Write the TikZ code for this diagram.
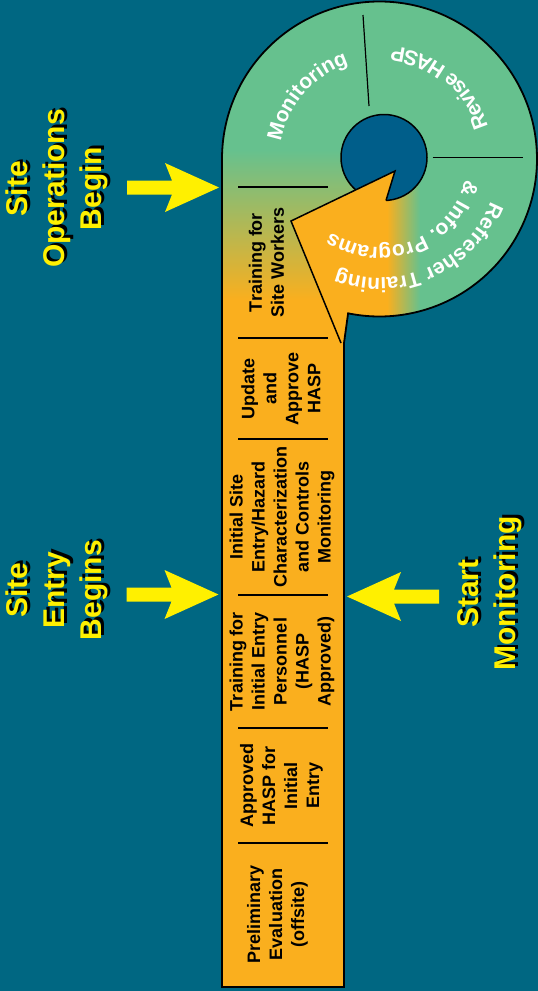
\documentclass[tikz,border=0pt]{standalone}
\usepackage{fontspec}
\setmainfont{Liberation Sans}
\usetikzlibrary{decorations.text}
\definecolor{bgteal}{RGB}{0,103,130}
\definecolor{holeblue}{RGB}{0,94,138}
\definecolor{stripor}{RGB}{250,175,30}
\definecolor{ringgreen}{RGB}{102,193,142}
\definecolor{signyellow}{RGB}{255,240,0}
\newcommand\ringfont{\bfseries\fontsize{21}{25}\selectfont}
\begin{document}
\begin{tikzpicture}[x=1pt, y=1pt,
  steplabel/.style={rotate=90, align=center, inner sep=0pt, text=black,
    font=\bfseries\fontsize{18}{22}\selectfont},
  milestone/.style={rotate=90, align=center, inner sep=0pt,
    font=\bfseries\fontsize{30}{37}\selectfont},
  milestoneshadow/.style={milestone, text=black},
  milestonetext/.style={milestone, text=signyellow},
  divider/.style={draw=black, line width=1.2pt},
  outline/.style={draw=black, line width=1.8pt, line join=miter},
  ringtext/.style={decorate, decoration={text along path, text align=center,
    text color=white, text={|\ringfont|#1}}},
  pics/blockarrow/.style={code={
    \fill[signyellow] (0,0) -- (-54,24.5) -- (-47,7) -- (-92,7) -- (-92,-7)
      -- (-47,-7) -- (-54,-24.5) -- cycle;}}
]
\useasboundingbox (0,0) rectangle (538,-991);
\fill[bgteal] (0,0) rectangle (538,-991);

% ring centre and hole centre
\coordinate (O) at (379.5,-159);
\coordinate (H) at (384,-157.5);

% the process strip joined to the cycle ring
\begin{scope}
  \clip (222,-987) -- (222,-159) arc[start angle=180, end angle=-101.5, radius=157.5]
        -- (344,-343) -- (344,-987) -- cycle;
  \fill[ringgreen] (200,0) rectangle (540,-991);
  \shade[top color=ringgreen, bottom color=stripor] (215,-150) rectangle (400,-300);
  \fill[stripor] (215,-300) rectangle (346,-991);
  % body of the return arrow, fading into the ring
  \begin{scope}
    \clip (291,-221) -- (395,-171) -- (560,-171) -- (560,-400) -- (341,-343) -- cycle;
    \fill[stripor] (280,-160) rectangle (387,-400);
    \shade[left color=stripor, right color=ringgreen] (387,-160) rectangle (420,-400);
    \fill[ringgreen] (420,-160) rectangle (560,-400);
  \end{scope}
\end{scope}

% hole in the middle of the ring
\filldraw[fill=holeblue, draw=black, line width=1.5pt] (H) circle[radius=43];

% arrow head reaching into the hole
\fill[stripor] (395,-171) -- (386,-200.5) -- (384,-226) -- (294,-226) -- (291,-221) -- cycle;

% outlines
\draw[outline] (222,-987) -- (222,-159) arc[start angle=180, end angle=-101.5, radius=157.5]
      -- (344,-343) -- (344,-987) -- cycle;
\coordinate (tipR) at (386,-200.5);
\coordinate (tip) at (395,-171);
\coordinate (wing) at (291,-221);
\coordinate (tail) at (341,-343);
\draw[line width=1.5pt, line join=miter] (tipR) -- (tip) -- (wing) -- (tail);

% dividers of the ring
\draw[divider] (363,-15) -- (369,-106);
\draw[divider] (432.7,-157.7) -- (523.3,-157.7);

% dividers of the strip
\foreach \yy in {187,338,439,595,728,843}
  \draw[divider] (238,-\yy) -- (328,-\yy);

% step labels
\node[steplabel] (lblWorkers) at (266.5,-262.5) {Training for\\Site Workers};
\node[steplabel] (lblUpdate) at (281,-388.5) {Update\\and\\Approve\\HASP};
\node[steplabel] (lblInitial) at (282,-517) {Initial Site\\Entry/Hazard\\Characterization\\and Controls\\Monitoring};
\node[steplabel] (lblTrainEntry) at (282,-661.5) {Training for\\Initial Entry\\Personnel\\(HASP\\Approved)};
\node[steplabel] (lblApproved) at (281.5,-785.5) {Approved\\HASP for\\Initial\\Entry};
\node[steplabel] (lblPrelim) at (277.5,-914.5) {Preliminary\\Evaluation\\(offsite)};

% ring labels
\path[ringtext={Monitoring}]
  ([shift={(179:100)}]O) arc[start angle=179, end angle=99, radius=100];
\path[ringtext={Revise HASP}]
  ([shift={(10:113)}]O) arc[start angle=10, end angle=90, radius=113];
\path[ringtext={Refresher Training}]
  ([shift={(-14:119)}]O) arc[start angle=-14, end angle=-118, radius=119];
\path[ringtext={{\&} Info. Programs}]
  ([shift={(-8:88)}]O) arc[start angle=-8, end angle=-129, radius=88];

% milestone arrows
\pic at (219,-187.5) {blockarrow};
\pic at (218.5,-594.5) {blockarrow};
\pic[rotate=180] at (347,-596.5) {blockarrow};

% milestone labels with drop shadow
\node[milestoneshadow] (opsShadow) at (59.5,-186) {Site\\Operations\\Begin};
\node[milestonetext] (opsBegin) at (57,-188.5) {Site\\Operations\\Begin};
\node[milestoneshadow] (entryShadow) at (59.5,-587.5) {Site\\Entry\\Begins};
\node[milestonetext] (entryBegin) at (57,-590) {Site\\Entry\\Begins};
\node[milestoneshadow] (monShadow) at (492.5,-591) {Start\\Monitoring};
\node[milestonetext] (monStart) at (490,-593.5) {Start\\Monitoring};
\end{tikzpicture}
\end{document}
